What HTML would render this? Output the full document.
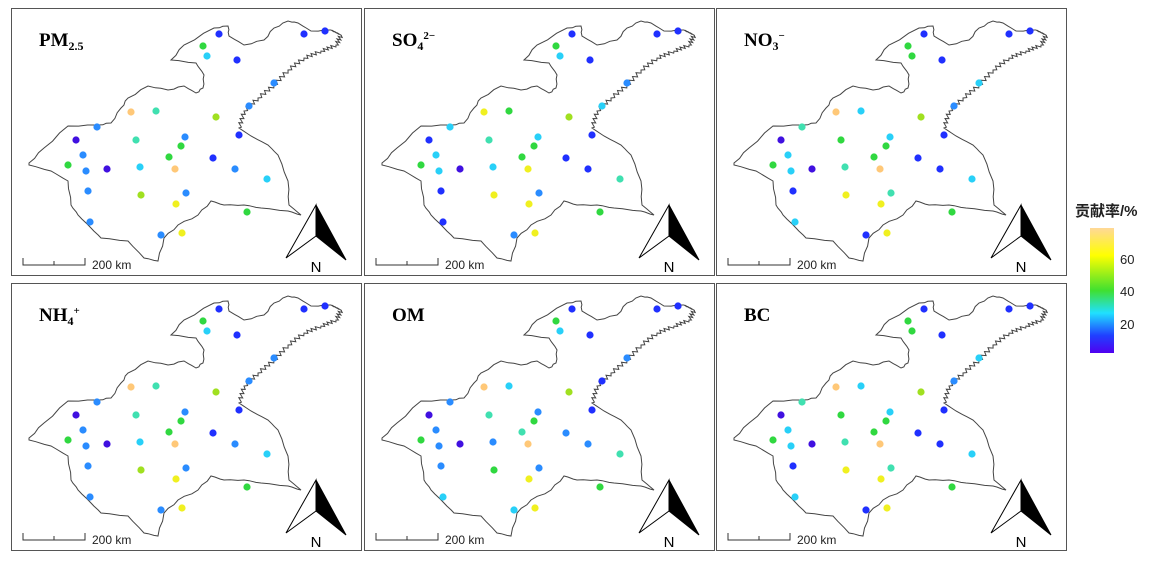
<!DOCTYPE html>
<html><head><meta charset="utf-8"><style>
body{margin:0;background:#fff;width:1153px;height:562px;overflow:hidden}
svg{position:absolute;left:0;top:0}
</style></head><body>
<svg id="s" width="1153" height="562" xmlns="http://www.w3.org/2000/svg">
<defs><linearGradient id="cb" x1="0" y1="0" x2="0" y2="1">
<stop offset="0" stop-color="#ffd898"/><stop offset="0.22" stop-color="#ffff00"/>
<stop offset="0.5" stop-color="#40e030"/><stop offset="0.68" stop-color="#20e0ff"/>
<stop offset="0.86" stop-color="#2040ff"/><stop offset="1" stop-color="#5000f0"/></linearGradient></defs>
<rect x="1090" y="228" width="24" height="125" fill="url(#cb)"/>
<g font-family="Liberation Sans, sans-serif" font-size="13" fill="#222">
<text x="1120" y="264">60</text><text x="1120" y="296">40</text><text x="1120" y="329">20</text></g>
<text x="1075" y="216" font-family="Liberation Sans, Noto Sans CJK SC, sans-serif" font-size="15" font-weight="bold" fill="#222">贡献率/%</text>
</svg>
<script>
var P=[[18,155],[33,140],[57,118],[87,117],[100,115],[110,100],[117,90],[137,78],[157,82],[173,78],[185,85],[192,80],[193,67],[185,55],[160,52],[173,37],[203,20],[217,18],[218,28],[233,37],[253,32],[263,20],[277,13],[287,15],[300,23],[320,22],[330,27],[325,37],[310,43],[293,50],[277,62],[263,77],[247,90],[233,103],[228,120],[240,128],[257,137],[267,147],[277,173],[278,197],[290,207],[277,203],[250,200],[233,197],[213,197],[200,193],[187,207],[167,217],[153,230],[147,253],[133,250],[117,233],[90,230],[80,220],[67,207],[60,197],[57,173],[40,163],[18,157]];
var d="M"+P[0][0]+","+P[0][1];
for(var i=1;i<P.length;i++){
 var a=P[i-1],b=P[i];
 var jag=(i>=26&&i<=34);
 var n=jag?8:3;
 for(var k=1;k<=n;k++){
  var t=k/n,x=a[0]+(b[0]-a[0])*t,y=a[1]+(b[1]-a[1])*t;
  if(k<n){var j=jag?((k%2)?1.8:-1.5):((k%2)?0.6:-0.5);x+=j;y+=j*0.7;}
  d+=" L"+x.toFixed(1)+","+y.toFixed(1);
 }
}
d+=" Z";
var pts=[[208,26],[293,26],[314,23],[192,38],[196,48],[226,52],[263,75],[238,98],[120,104],[145,103],[205,109],[86,119],[228,127],[65,132],[125,132],[174,129],[170,138],[72,147],[158,149],[202,150],[57,157],[75,163],[96,161],[129,159],[164,161],[224,161],[256,171],[77,183],[130,187],[175,185],[165,196],[236,204],[79,214],[150,227],[171,225]];
var cm={B:"#2030ff",P:"#4010e0",D:"#2a8cff",C:"#28d0f8",T:"#40e0b0",G:"#30d840",L:"#a0e020",Y:"#f0f020",O:"#ffc878"};
var pm="BBBGCBDDOTLDBPTDGDGBGDPCODCDLDYGDDY";
var so="BBBGCBDCYGLCBBTCGCGBGCPCYBTBYDYGBDY";
var no="BBBGGBCDOCLTBPGCGCGBGCPTOBCBYTYGCBY";
var om="BBBGCBDBOCLDBPTDGDTDGDPDODTDGDYGCCY";
var panels=[[11,8,"PM","2.5","",pm],[364,8,"SO","4","2−",so],[716,8,"NO","3","−",no],[11,283,"NH","4","+",pm],[364,283,"OM","","",om],[716,283,"BC","","",no]];
var h="";
panels.forEach(function(p){
 h+='<g transform="translate('+p[0]+','+p[1]+')">';
 h+='<rect x="0.5" y="0.5" width="350" height="267" fill="none" stroke="#555" stroke-width="1"/>';
 h+='<path d="'+d+'" fill="none" stroke="#444" stroke-width="1"/>';
 pts.forEach(function(q,i){h+='<circle cx="'+q[0]+'" cy="'+q[1]+'" r="3.6" fill="'+cm[p[5][i]]+'"/>';});
 h+='<text x="28" y="38" font-family="Liberation Serif, serif" font-weight="bold" font-size="19" fill="#000">'+p[2]+(p[3]?'<tspan font-size="12" dy="4">'+p[3]+'</tspan>':'')+(p[4]?'<tspan font-size="11" dy="-11">'+p[4]+'</tspan>':'')+'</text>';
 h+='<path d="M12,250 V257 H74 V250 M43,253 V257" fill="none" stroke="#333" stroke-width="1"/>';
 h+='<text x="81" y="261" font-family="Liberation Sans, sans-serif" font-size="12" fill="#222">200 km</text>';
 h+='<path d="M305,197 L275,250 L305,228 Z" fill="#fff" stroke="#000" stroke-width="1"/><path d="M305,197 L335,252 L305,228 Z" fill="#000" stroke="#000" stroke-width="1"/>';
 h+='<text x="305" y="264" text-anchor="middle" font-family="Liberation Sans, sans-serif" font-size="15" fill="#000">N</text>';
 h+='</g>';
});
document.getElementById("s").insertAdjacentHTML("beforeend",h);
</script>
</body></html>
